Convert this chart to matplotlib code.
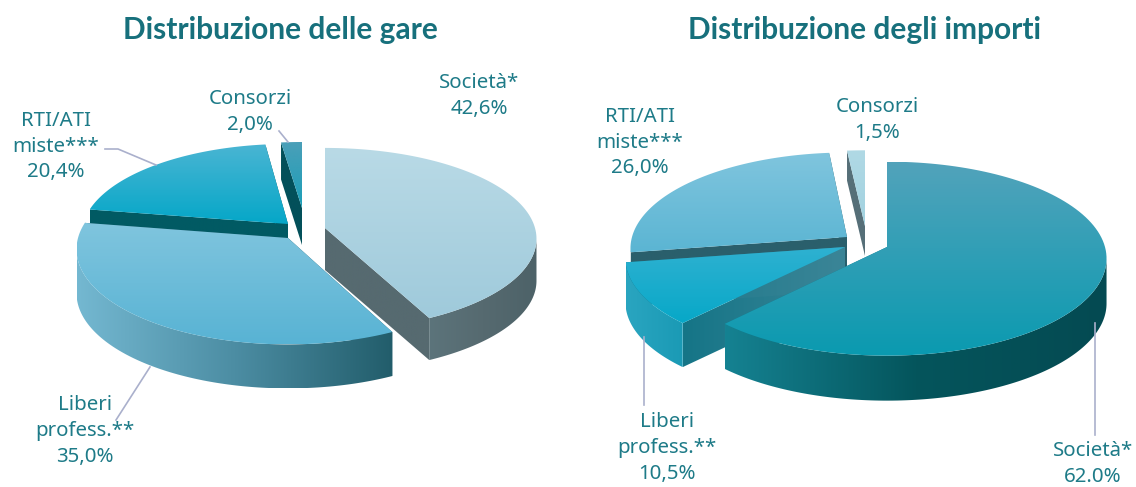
import numpy as np
import matplotlib
matplotlib.use('Agg')
import matplotlib.pyplot as plt
from matplotlib.colors import LinearSegmentedColormap
from matplotlib.patches import Polygon

# Data
categories_gare = ['Società*', 'Liberi\nprofess.**', 'RTI/ATI\nmiste***', 'Consorzi']
values_gare = [42.6, 35.0, 20.4, 2.0]
labels_gare = ['42,6%', '35,0%', '20,4%', '2,0%']

categories_importi = ['Società*', 'Liberi\nprofess.**', 'RTI/ATI\nmiste***', 'Consorzi']
values_importi = [62.0, 10.5, 26.0, 1.5]
labels_importi = ['62.0%', '10,5%', '26,0%', '1,5%']

# Geometry of each slice in figure pixels: apex x, apex y, rx, ry, depth
geom_gare = [(325, 228, 210, 91, 42), (288, 238, 210, 95, 44),
             (288, 224, 205, 91, 42), (302, 208, 190, 75, 37)]
geom_importi = [(887, 247, 218, 97, 45), (845, 247, 218, 96, 44),
                (847, 237, 215, 96, 40), (865, 226, 217, 86, 30)]

# top face (back, front), outer wall (left to right), cut wall (left to right)
style_gare = [
    (('#b9dae6', '#9fcadb'), ['#5c747b', '#566a70', '#4d6268'], ['#566a70', '#566a70']),
    (('#80c5de', '#58b3d4'), ['#74b8d1', '#4c8da3', '#225d6b'], ['#225d6b', '#225d6b']),
    (('#4ab5d3', '#05a7c8'), ['#0a8ba3', '#015a63'], ['#015a63', '#015a63']),
    (('#4a9fb8', '#1b9fb8'), ['#1b8ea5', '#0a6e80'], ['#03505a', '#03505a']),
]
style_importi = [
    (('#52a3bb', '#0a9ab0'), ['#158292', '#04555c', '#044a52'], ['#137c8c', '#137c8c']),
    (('#2fb1d1', '#07a8c8'), ['#2aa5c0', '#1a9ab5'], ['#157587', '#3b8597']),
    (('#80c5de', '#5bb5d3'), ['#2a5f6c', '#2a5f6c'], ['#2a5f6c', '#2a5f6c']),
    (('#b0d9e5', '#a2d2e0'), ['#566f78', '#566f78'], ['#566f78', '#566f78']),
]

TITLE_COLOR = '#17707c'
TEXT_COLOR = '#1e7b88'
LINE_COLOR = '#aab0cc'
PERSPECTIVE = 0.12
# part of the rim that faces the viewer
FRONT_FROM, FRONT_TO = 97, 263

fig = plt.figure(figsize=(11.36, 4.87), dpi=100)
ax = fig.add_axes([0, 0, 1, 1])
ax.set_axis_off()


def arc_points(cx, cy, rx, ry, t0, t1):
    # angles clockwise from the top, front of the disc drawn a bit bigger
    t = np.radians(np.linspace(t0, t1, 120))
    s = 1 - PERSPECTIVE * np.cos(t)
    return np.column_stack([cx + rx * np.sin(t) * s, cy - ry * np.cos(t) * s])


def gradient_fill(points, colors, horizontal, z):
    cmap = LinearSegmentedColormap.from_list('g', colors)
    x0, y0 = points.min(axis=0)
    x1, y1 = points.max(axis=0)
    grad = np.linspace(0, 1, 256)
    grad = grad.reshape(1, -1) if horizontal else grad.reshape(-1, 1)
    im = ax.imshow(grad, extent=[x0, x1, y1, y0], cmap=cmap, aspect='auto',
                   vmin=0, vmax=1, zorder=z)
    im.set_clip_path(Polygon(points, closed=True, transform=ax.transData))


def draw_slice(geom, style, t0, t1, z):
    cx, cy, rx, ry, depth = geom
    top_cols, wall_cols, cut_cols = style
    arc = arc_points(cx, cy, rx, ry, t0, t1)
    down = np.array([0, depth])
    apex = np.array([cx, cy])

    # cut faces first, the rim and the top go over what should be hidden
    for p in (arc[0], arc[-1]):
        if abs(p[0] - cx) > 1:
            cut = np.array([apex, p, p + down, apex + down])
            gradient_fill(cut, cut_cols, True, z)
    f0, f1 = max(t0, FRONT_FROM), min(t1, FRONT_TO)
    if f1 > f0:
        rim = arc_points(cx, cy, rx, ry, f0, f1)
        wall = np.vstack([rim, (rim + down)[::-1]])
        gradient_fill(wall, wall_cols, True, z + 0.1)
    top = np.vstack([apex, arc])
    gradient_fill(top, top_cols, False, z + 0.2)


def draw_pie(values, geoms, styles, order):
    edges = np.concatenate([[0], np.cumsum(values)]) * 3.6
    for n, i in enumerate(order):
        draw_slice(geoms[i], styles[i], edges[i], edges[i + 1], 2 + n)


draw_pie(values_gare, geom_gare, style_gare, [3, 2, 1, 0])
draw_pie(values_importi, geom_importi, style_importi, [3, 2, 1, 0])

# Leader lines
leaders = [
    [(279, 131), (288, 142)],
    [(105, 149), (118, 149), (156, 165)],
    [(150, 367), (116, 420)],
    [(644, 337), (644, 405)],
    [(1095, 323), (1095, 435)],
]
for line in leaders:
    xs, ys = zip(*line)
    ax.plot(xs, ys, color=LINE_COLOR, lw=1.2, zorder=10)

# Titles
ax.text(280, 30, 'Distribuzione delle gare', ha='center', va='center',
        fontsize=21.5, fontweight='bold', family='Lato', color=TITLE_COLOR, zorder=12)
ax.text(864, 30, 'Distribuzione degli importi', ha='center', va='center',
        fontsize=21.5, fontweight='bold', family='Lato', color=TITLE_COLOR, zorder=12)

# Labels
pos_gare = [(479, 96), (85, 431), (56, 146.5), (250, 112)]
pos_importi = [(1093, 464), (667, 448), (640, 142.5), (877, 120)]
for cats, labs, pos in [(categories_gare, labels_gare, pos_gare),
                        (categories_importi, labels_importi, pos_importi)]:
    for cat, lab, (x, y) in zip(cats, labs, pos):
        ax.text(x, y, cat + '\n' + lab, ha='center', va='center', fontsize=14.7,
                family='Noto Sans', color=TEXT_COLOR, linespacing=1.39, zorder=12)

ax.set_xlim(0, 1136)
ax.set_ylim(487, 0)
fig.savefig('out.png', dpi=100, facecolor='white')
